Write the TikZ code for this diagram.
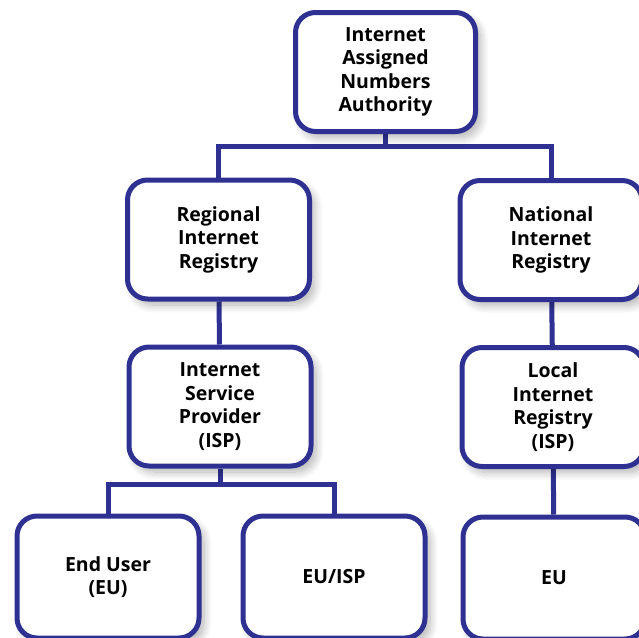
\documentclass[tikz,border=0pt]{standalone}
\usepackage{fontspec}
\setmainfont{Open Sans}
\usepackage{xcolor}
\usetikzlibrary{positioning, calc, shadows.blur, backgrounds}
\definecolor{registryblue}{RGB}{46,49,146}
\tikzset{
  regbox/.style={draw=registryblue, line width=5pt, rounded corners=20pt, fill=white,
    minimum width=182pt, minimum height=119pt, align=center, inner sep=2pt,
    font=\bfseries\fontsize{19.5}{23.5}\selectfont,
    blur shadow={shadow xshift=5pt, shadow yshift=-6pt, shadow blur radius=8pt,
      shadow blur steps=12, shadow opacity=30}},
  link/.style={draw=registryblue, line width=5pt}
}
\begin{document}
\begin{tikzpicture}[x=1pt, y=-1pt]
        \useasboundingbox (0,0) rectangle (639,637);
        \clip (0,0) rectangle (639,637);
        \node[regbox, minimum width=180pt] (iana) at (385.5,72) {Internet\\Assigned\\Numbers\\Authority};
        \node[regbox] (rir) at (218.5,239.5) {Regional\\Internet\\Registry};
        \node[regbox] (nir) at (551,240) {National\\Internet\\Registry};
        \node[regbox] (isp) at (220,406.5) {Internet\\Service\\Provider\\(ISP)};
        \node[regbox] (lir) at (553,407) {Local\\Internet\\Registry\\(ISP)};
        \node[regbox, minimum height=122pt] (enduser) at (108,577) {End User\\(EU)};
        \node[regbox, minimum height=122pt] (euisp) at (334,577) {EU/ISP};
        \node[regbox, minimum height=122pt] (eu) at (554,578) {EU};
        \coordinate (topsplit) at (385.5,146);
        \coordinate (ispsplit) at (220,484);
        \begin{scope}[on background layer]
            \draw[link] (iana) -- (topsplit);
            \draw[link] (rir.north) |- (topsplit) -| (nir.north);
            \draw[link] (rir) -- (isp);
            \draw[link] (nir) -- (lir);
            \draw[link] (lir) -- (eu);
            \draw[link] (isp) -- (ispsplit);
            \draw[link] (enduser.north) |- (ispsplit) -| (euisp.north);
        \end{scope}
    \end{tikzpicture}
\end{document}
